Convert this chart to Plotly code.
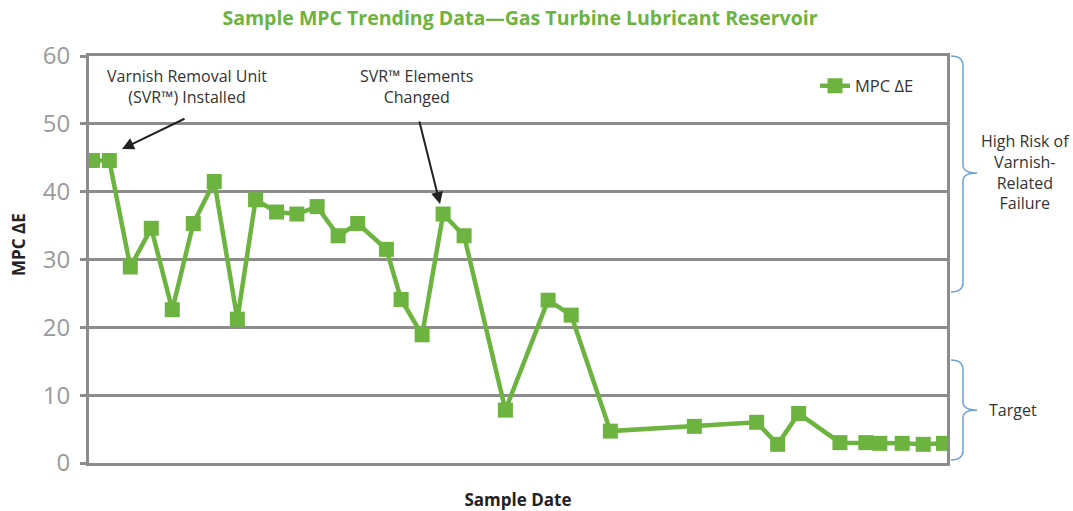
import plotly.graph_objects as go

# ---- data ----
sample_dates = [
    "2010-01-05", "2010-01-29", "2010-02-28", "2010-03-30", "2010-04-29",
    "2010-05-29", "2010-06-28", "2010-07-31", "2010-08-26", "2010-09-25",
    "2010-10-24", "2010-11-22", "2010-12-22", "2011-01-19", "2011-03-01",
    "2011-03-22", "2011-04-21", "2011-05-21", "2011-06-20", "2011-08-18",
    "2011-10-18", "2011-11-20", "2012-01-15", "2012-05-14", "2012-08-11",
    "2012-09-10", "2012-10-10", "2012-12-08", "2013-01-14", "2013-02-03",
    "2013-03-07", "2013-04-06", "2013-05-05",
]
mpc_delta_e = [
    44.6, 44.6, 28.9, 34.6, 22.6, 35.3, 41.5, 21.2, 38.8, 37.0,
    36.7, 37.8, 33.5, 35.3, 31.5, 24.1, 18.9, 36.7, 33.5, 7.8,
    24.0, 21.8, 4.7, 5.4, 6.0, 2.75, 7.3, 3.0, 3.0, 2.9,
    2.9, 2.75, 2.9,
]
series_name = "MPC ΔE"
y_ticks = [0, 10, 20, 30, 40, 50, 60]

GREEN = "#6cb33f"
GRAY = "#8c8c8c"
TICKGRAY = "#9a9a9a"
BLUE = "#6d9fd6"
TEXT = "#333333"
FONT = "Open Sans"

W, H = 1073, 511
L, R, T, B = 89, 947, 56, 463


def px(x):
    return (x - L) / (R - L)


def py(y):
    return (B - y) / (B - T)


fig = go.Figure()
fig.add_trace(go.Scatter(
    x=sample_dates, y=mpc_delta_e, name=series_name,
    mode="lines+markers",
    line=dict(color=GREEN, width=4.5),
    marker=dict(symbol="square", size=15, color=GREEN),
))


def brace(x0, xm, xp, ytop, ymid, ybot):
    pts = [
        f"M {px(x0)},{py(ytop)}",
        f"Q {px(xm)},{py(ytop)} {px(xm)},{py(ytop + 10)}",
        f"L {px(xm)},{py(ymid - 8)}",
        f"Q {px(xm)},{py(ymid)} {px(xp)},{py(ymid)}",
        f"Q {px(xm)},{py(ymid)} {px(xm)},{py(ymid + 8)}",
        f"L {px(xm)},{py(ybot - 10)}",
        f"Q {px(xm)},{py(ybot)} {px(x0)},{py(ybot)}",
    ]
    return dict(type="path", xref="paper", yref="paper", path=" ".join(pts),
                line=dict(color=BLUE, width=1.5))


shapes = [
    brace(951, 963, 977, 56, 173, 292),
    brace(951, 963, 977, 360, 410, 460),
]

note_font = dict(family=FONT, size=16, color=TEXT)
annotations = [
    dict(xref="paper", yref="paper", x=px(187), y=py(86), xanchor="center", yanchor="middle",
         text="Varnish Removal Unit<br>(SVR™) Installed", showarrow=False,
         font=note_font, align="center"),
    dict(xref="paper", yref="paper", x=px(416), y=py(86), xanchor="center", yanchor="middle",
         text="SVR™ Elements<br>Changed", showarrow=False,
         font=note_font, align="center"),
    # arrows
    dict(xref="paper", yref="paper", axref="pixel", ayref="pixel",
         x=px(122), y=py(149), ax=64, ay=-31, text="",
         showarrow=True, arrowhead=2, arrowsize=1.2, arrowwidth=2, arrowcolor="#222222"),
    dict(xref="paper", yref="paper", axref="pixel", ayref="pixel",
         x=px(440), y=py(204), ax=-21, ay=-84, text="",
         showarrow=True, arrowhead=2, arrowsize=1.2, arrowwidth=2, arrowcolor="#222222"),
    dict(xref="paper", yref="paper", x=px(1025), y=py(172), xanchor="center", yanchor="middle",
         text="High Risk of<br>Varnish-<br>Related<br>Failure", showarrow=False,
         font=note_font, align="center"),
    dict(xref="paper", yref="paper", x=px(1013), y=py(410), xanchor="center", yanchor="middle",
         text="Target", showarrow=False,
         font=note_font, align="center"),
    # y-axis title (placed as in the reference, above the plot centre)
    dict(xref="paper", yref="paper", x=px(18), y=py(245), xanchor="center", yanchor="middle",
         text="<b>MPC ΔE</b>", textangle=-90, showarrow=False,
         font=dict(family=FONT, size=17, color="#222222")),
]

fig.update_layout(
    width=W, height=H,
    margin=dict(l=L, r=W - R, t=T, b=H - B, autoexpand=False),
    paper_bgcolor="white", plot_bgcolor="white",
    title=dict(text="<b>Sample MPC Trending Data—Gas Turbine Lubricant Reservoir</b>",
               x=px(520), xref="paper", xanchor="center", y=1 - 18 / H, yanchor="middle",
               font=dict(family=FONT, size=19.5, color=GREEN)),
    font=dict(family=FONT, color=TEXT),
    showlegend=True,
    legend=dict(x=px(815), y=py(86), xanchor="left", yanchor="middle",
                bgcolor="rgba(0,0,0,0)", font=dict(family=FONT, size=16.5, color=TEXT)),
    shapes=shapes,
    annotations=annotations,
)

fig.update_xaxes(
    type="date", range=["2009-12-31", "2013-05-10"],
    showgrid=False, showticklabels=False, ticks="",
    showline=True, linecolor=GRAY, linewidth=3, mirror=True,
    zeroline=False,
    title=dict(text="<b>Sample Date</b>", font=dict(family=FONT, size=17, color="#222222"),
               standoff=31),
)
fig.update_yaxes(
    range=[0, 60], tickvals=y_ticks, ticktext=[str(v) for v in y_ticks],
    showgrid=True, gridcolor=GRAY, gridwidth=2.5,
    showline=True, linecolor=GRAY, linewidth=3, mirror=True,
    ticks="outside", ticklen=6, tickcolor=GRAY, tickwidth=2.5,
    ticklabelstandoff=5,
    tickfont=dict(family=FONT, size=24, color=TICKGRAY),
    zeroline=False,
)

fig.write_html("out.html", post_script="document.body.style.margin='0';",
               config={"displayModeBar": False})
